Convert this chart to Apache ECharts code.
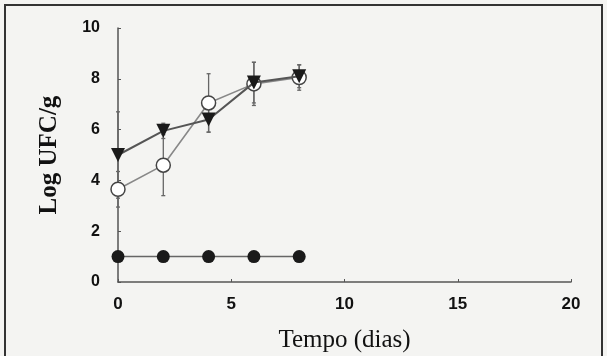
<!DOCTYPE html>
<html><head><meta charset="utf-8">
<script src="https://cdn.jsdelivr.net/npm/echarts@6/dist/echarts.min.js"></script>
<style>html,body{margin:0;padding:0;background:#f4f4f2;}#c{width:607px;height:356px;}
#frame{position:absolute;left:4px;top:4px;width:599px;height:360px;border:2px solid #333;border-bottom:none;box-sizing:border-box;pointer-events:none;}</style>
</head><body><div id="c"></div><div id="frame"></div>
<script>
const days = [0, 2, 4, 6, 8];
const control = [1, 1, 1, 1, 1];
const triangleVals = [5.0, 5.95, 6.4, 7.85, 8.1];
const triangleErr = [1.7, 0.3, 0.5, 0.8, 0.45];
const openVals = [3.65, 4.6, 7.05, 7.8, 8.05];
const openErr = [0.7, 1.2, 1.15, 0.85, 0.5];
const xTicks = [0, 5, 10, 15, 20];
const yTicks = [0, 2, 4, 6, 8, 10];

const chart = echarts.init(document.getElementById('c'));
function errData(vals, errs){ return days.map((d,i)=>[d, vals[i]-errs[i], vals[i]+errs[i]]); }
function errSeries(vals, errs){
  return {type:'custom', z:1, data: errData(vals, errs), encode:{x:0,y:[1,2]},
    renderItem:function(params, api){
      const x = api.value(0);
      const lo = api.coord([x, api.value(1)]);
      const hi = api.coord([x, api.value(2)]);
      const st = {stroke:'#666', lineWidth:1.3};
      return {type:'group', children:[
        {type:'line', shape:{x1:lo[0],y1:lo[1],x2:hi[0],y2:hi[1]}, style:st},
        {type:'line', shape:{x1:lo[0]-2,y1:lo[1],x2:lo[0]+2,y2:lo[1]}, style:st},
        {type:'line', shape:{x1:hi[0]-2,y1:hi[1],x2:hi[0]+2,y2:hi[1]}, style:st}
      ]};
    }};
}
chart.setOption({
  backgroundColor:'#f4f4f2',
  animation:false,
  grid:{left:118, right:36, top:28, bottom:74, containLabel:false, outerBoundsMode:'none'},
  xAxis:{type:'value', min:0, max:20, interval:5,
    axisLine:{lineStyle:{color:'#555', width:1.5}},
    axisTick:{show:true, inside:true, length:3, lineStyle:{color:'#555'}},
    splitLine:{show:false},
    axisLabel:{color:'#111', fontFamily:'Liberation Sans', fontWeight:'bold', fontSize:17, margin:14},
    name:'Tempo (dias)', nameLocation:'middle', nameGap:46,
    nameTextStyle:{color:'#111', fontFamily:'Liberation Serif', fontSize:25}},
  yAxis:{type:'value', min:0, max:10, interval:2,
    axisLine:{show:true, lineStyle:{color:'#555', width:1.5}},
    axisTick:{show:true, inside:true, length:3, lineStyle:{color:'#555'}},
    splitLine:{show:false},
    axisLabel:{color:'#111', fontFamily:'Liberation Sans', fontWeight:'bold', fontSize:16, margin:18},
    name:'Log UFC/g', nameLocation:'middle', nameGap:56,
    nameTextStyle:{color:'#111', fontFamily:'Liberation Serif', fontWeight:'bold', fontSize:25}},
  series:[
    errSeries(triangleVals, triangleErr),
    errSeries(openVals, openErr),
    {type:'line', z:3, data: days.map((d,i)=>[d, control[i]]), symbol:'circle', symbolSize:13,
      lineStyle:{color:'#666', width:1.5}, itemStyle:{color:'#1a1a1a'}},
    {type:'line', z:3, data: days.map((d,i)=>[d, openVals[i]]), symbol:'circle', symbolSize:14,
      lineStyle:{color:'#888', width:1.6}, itemStyle:{color:'#fff', borderColor:'#444', borderWidth:1.5}},
    {type:'line', z:4, data: days.map((d,i)=>[d, triangleVals[i]]), symbol:'triangle', symbolRotate:180, symbolSize:14,
      lineStyle:{color:'#555', width:2}, itemStyle:{color:'#1a1a1a'}}
  ]
});
</script></body></html>
